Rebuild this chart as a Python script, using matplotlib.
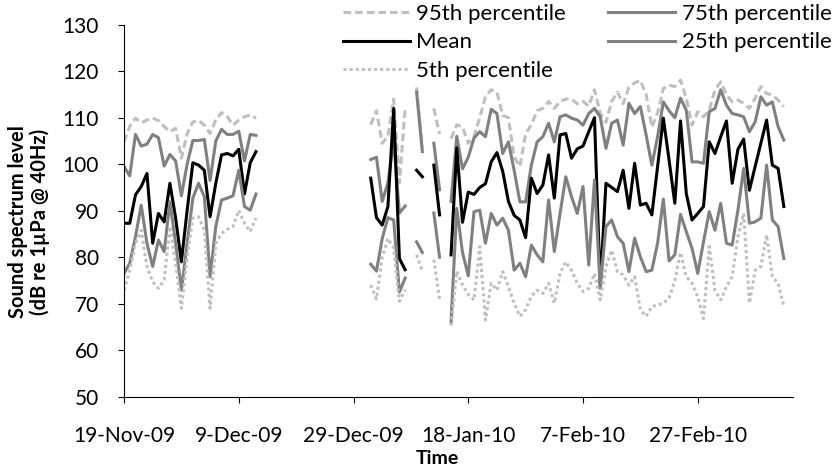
import numpy as np
import matplotlib
matplotlib.use('Agg')
import matplotlib.pyplot as plt
from datetime import datetime, timedelta

nan = np.nan

# daily values, 19-Nov-09 onwards (nan = no recording)
start_date = datetime(2009, 11, 19)
n_days = 116

p95 = ([104.8, 108.1, 109.9, 108.9, 109.5, 109.9, 109.4, 108.1, 107.0, 107.7,
        101.3, 106.6, 109.1, 109.4, 108.4, 106.6, 109.5, 111.1, 110.2, 108.4,
        109.5, 110.2, 110.6, 109.9]
       + [nan] * 19
       + [108.5, 111.5, 104.5, 106.0, 114.0, 96.0, 112.0]
       + [nan] + [116.5, 103.5] + [nan] + [112.0, 106.5] + [nan]
       + [105.5, 108.5, 108.0, 104.5, 106.0, 110.0, 114.5, 116.0, 115.5, 110.5,
          110.0, 101.5, 99.5, 106.5, 108.5, 111.5, 112.0, 113.5, 112.0, 113.5,
          114.0, 114.0, 113.0, 113.5, 112.5, 116.0, 111.0, 109.0, 113.5, 115.5,
          113.0, 116.5, 117.5, 118.0, 115.0, 108.0, 111.0, 116.3, 117.0, 116.7,
          118.1, 114.2, 108.4, 111.3, 110.2, 111.6, 116.0, 117.7, 114.9, 113.4,
          113.8, 113.1, 112.0, 114.2, 116.7, 115.2, 114.9, 113.8, 112.4])

p75 = ([99.5, 97.5, 106.4, 103.9, 104.3, 106.4, 105.7, 99.6, 102.1, 100.7,
        93.2, 100.0, 105.1, 105.1, 105.3, 96.5, 105.0, 107.5, 106.4, 106.4,
        107.1, 100.7, 106.4, 106.2]
       + [nan] * 19
       + [101.0, 101.5, 92.0, 96.0, 105.0, 89.5, 91.0]
       + [nan] + [115.5, 102.7] + [nan] + [104.5, 94.5] + [nan]
       + [92.0, 106.0, 99.0, 101.5, 105.6, 107.0, 105.9, 111.8, 110.9, 102.3,
          104.8, 98.7, 91.9, 91.9, 99.8, 104.8, 105.9, 108.8, 104.8, 110.2,
          110.6, 109.9, 109.5, 108.4, 110.9, 112.0, 110.2, 103.4, 108.8, 109.5,
          104.1, 113.1, 110.9, 112.4, 106.3, 99.8, 105.9, 113.4, 111.5, 110.0,
          114.2, 111.6, 100.5, 100.5, 100.2, 111.3, 112.0, 116.0, 112.7, 110.9,
          110.6, 110.2, 107.0, 109.1, 114.5, 112.7, 113.4, 108.1, 105.2])

mean = ([87.3, 87.3, 93.4, 95.2, 98.0, 83.0, 89.4, 87.6, 95.9, 88.4,
         79.0, 90.0, 100.3, 99.8, 98.7, 88.7, 95.9, 102.0, 102.3, 101.8,
         103.2, 93.6, 100.3, 102.7]
        + [nan] * 19
        + [97.0, 88.5, 86.9, 90.9, 112.0, 79.7, 77.3]
        + [nan] + [98.7, 97.3] + [nan] + [99.8, 89.1] + [nan]
        + [80.5, 103.5, 87.5, 94.0, 93.5, 95.0, 95.8, 100.5, 102.5, 98.5,
           92.0, 89.0, 88.0, 84.2, 97.0, 93.7, 95.5, 102.0, 92.7, 106.3,
           106.6, 101.3, 103.3, 103.9, 107.0, 110.0, 73.7, 95.9, 95.0, 94.1,
           98.7, 90.5, 100.2, 91.2, 91.6, 89.1, 99.5, 109.9, 100.9, 91.6,
           109.3, 93.7, 88.0, 89.4, 90.9, 104.8, 102.3, 105.9, 109.3, 95.9,
           103.2, 105.4, 94.4, 99.5, 104.5, 109.5, 99.8, 99.1, 90.9])

p25 = ([76.5, 78.7, 84.4, 91.2, 83.0, 78.0, 83.7, 81.2, 91.9, 83.0,
        72.9, 83.0, 92.7, 95.9, 93.0, 75.8, 86.6, 92.3, 92.7, 93.2,
        98.7, 90.9, 90.1, 93.6]
       + [nan] * 19
       + [78.5, 77.0, 84.0, 88.5, 88.0, 72.5, 75.5]
       + [nan] + [83.3, 81.0] + [nan] + [89.5, 80.0] + [nan]
       + [66.0, 90.5, 81.0, 76.0, 89.8, 90.1, 83.0, 89.4, 86.9, 88.4,
          85.8, 77.2, 78.7, 75.8, 82.6, 80.5, 79.0, 92.3, 81.2, 89.4,
          97.3, 93.0, 89.4, 95.2, 78.3, 96.6, 73.3, 86.6, 88.0, 84.4,
          83.0, 76.9, 84.1, 80.1, 76.9, 77.2, 83.0, 92.5, 79.2, 80.5,
          89.2, 85.5, 81.9, 76.5, 83.3, 89.8, 85.8, 91.6, 83.0, 82.6,
          90.1, 99.1, 87.3, 87.6, 88.4, 99.8, 88.0, 86.6, 79.7])

p5 = ([72.9, 77.2, 83.0, 85.8, 78.0, 74.7, 73.3, 75.1, 86.6, 78.7,
       69.0, 80.0, 88.4, 88.7, 85.8, 69.0, 83.0, 85.1, 86.0, 86.6,
       90.1, 87.3, 85.5, 88.4]
      + [nan] * 19
      + [74.0, 71.0, 80.0, 84.0, 82.0, 70.5, 73.0]
      + [nan] + [80.5, 77.0] + [nan] + [79.5, 71.0] + [nan]
      + [65.3, 77.0, 74.0, 72.0, 70.8, 82.3, 66.5, 74.4, 72.9, 76.9,
         73.7, 70.1, 67.3, 68.7, 71.6, 72.9, 72.2, 74.4, 70.1, 76.5,
         79.0, 77.2, 74.4, 72.6, 73.3, 76.5, 70.8, 78.0, 81.5, 76.9,
         76.2, 74.0, 75.8, 68.7, 67.3, 69.4, 69.7, 70.1, 71.2, 75.0,
         81.0, 75.8, 74.4, 71.5, 66.8, 82.3, 72.9, 70.8, 73.7, 75.8,
         84.4, 89.4, 70.1, 77.2, 78.0, 84.8, 75.8, 74.4, 69.4])

tick_dates = [datetime(2009, 11, 19), datetime(2009, 12, 9), datetime(2009, 12, 29),
              datetime(2010, 1, 18), datetime(2010, 2, 7), datetime(2010, 2, 27)]
tick_labels = ['19-Nov-09', '9-Dec-09', '29-Dec-09', '18-Jan-10', '7-Feb-10', '27-Feb-10']
y_ticks = [50, 60, 70, 80, 90, 100, 110, 120, 130]

dates = [start_date + timedelta(days=i) for i in range(n_days)]

plt.rcParams['font.family'] = ['Lato', 'DejaVu Sans']

fig = plt.figure(figsize=(8.4, 4.73), dpi=100)
ax = fig.add_axes([124 / 840, 1 - 396.7 / 473, 669 / 840, 372 / 473])

lw = 2.2
light = '#BFBFBF'
mid = '#808080'
l95, = ax.plot(dates, p95, color=light, lw=lw, dashes=(2.5, 1.3), label='95th percentile')
l75, = ax.plot(dates, p75, color=mid, lw=lw, label='75th percentile')
lmean, = ax.plot(dates, mean, color='black', lw=lw, label='Mean')
l25, = ax.plot(dates, p25, color=mid, lw=lw, label='25th percentile')
l5, = ax.plot(dates, p5, color=light, lw=lw, dashes=(1, 1), label='5th percentile')

ax.set_xlim(start_date, start_date + timedelta(days=116.6))
ax.set_ylim(50, 130)
ax.set_yticks(y_ticks)
ax.set_xticks(tick_dates)
ax.set_xticklabels(tick_labels)

for s in ['top', 'right']:
    ax.spines[s].set_visible(False)
for s in ['left', 'bottom']:
    ax.spines[s].set_linewidth(0.8)
ax.tick_params(axis='both', direction='out', length=4, width=0.8,
               labelsize=15, colors='black')
ax.tick_params(axis='y', pad=14)
ax.tick_params(axis='x', pad=17)

fig.text(437 / 840, 1 - 458 / 473, 'Time', fontsize=14, fontweight='bold',
         ha='center', va='center')
fig.text(29 / 840, 1 - 222 / 473, 'Sound spectrum level\n(dB re 1µPa @ 40Hz)',
         fontsize=14.5, fontweight='bold', rotation=90, ha='center', va='center',
         multialignment='center', linespacing=1.05)

fig.legend(handles=[l95, lmean, l5, l75, l25], loc='upper left',
           bbox_to_anchor=(343 / 840, 1 - 4 / 473), ncol=2, frameon=False,
           fontsize=16, handlelength=3.0, handletextpad=0.3,
           columnspacing=1.9, labelspacing=0.38, borderpad=0, borderaxespad=0)

fig.savefig('out.png', dpi=100)
